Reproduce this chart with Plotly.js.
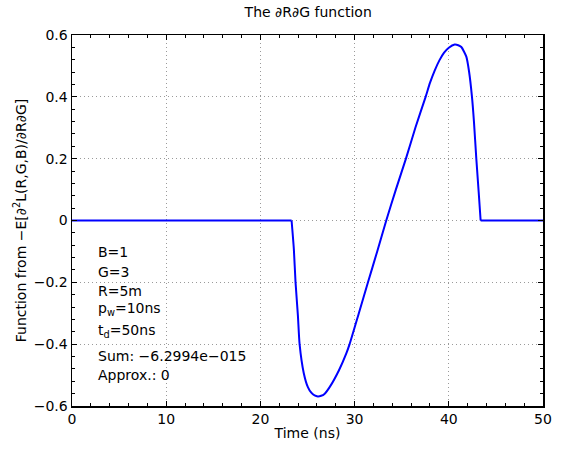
<!DOCTYPE html>
<html>
<head>
<meta charset="utf-8">
<script src="https://cdn.plot.ly/plotly-3.0.1.min.js"></script>
<style>html,body{margin:0;padding:0;background:#fff;}</style>
</head>
<body>
<div id="chart" style="width:563px;height:450px;"></div>
<script>
// Time (ns)
const timeNs = [0, 23.31, 23.55, 23.73, 23.98, 24.16, 24.6, 25.04, 25.4, 25.75, 26.1, 26.45, 26.8, 27.35, 28.33, 29.12, 29.47, 30.45, 31.42, 32.4, 33.36, 34.38, 35.45, 36.45, 37.54, 38.0, 38.5, 39.0, 39.5, 40.0, 40.62, 41.0, 41.33, 41.86, 42.15, 42.46, 42.67, 42.92, 43.17, 43.38, 50];
// Function value
const funcVals = [0, 0, -0.092, -0.2, -0.307, -0.4, -0.493, -0.539, -0.557, -0.566, -0.569, -0.567, -0.561, -0.539, -0.485, -0.43, -0.4, -0.3, -0.2, -0.1, 0, 0.1, 0.2, 0.3, 0.4, 0.445, 0.485, 0.518, 0.543, 0.559, 0.569, 0.567, 0.561, 0.53, 0.482, 0.4, 0.32, 0.2, 0.093, 0, 0];

const xTicks = [0, 10, 20, 30, 40, 50];
const yTicks = [-0.6, -0.4, -0.2, 0, 0.2, 0.4, 0.6];
const yTickText = ['\u22120.6', '\u22120.4', '\u22120.2', '0', '0.2', '0.4', '0.6'];

const infoLines = ['B=1', 'G=3', 'R=5m', 'p<sub>w</sub>=10ns', 't<sub>d</sub>=50ns', 'Sum: \u22126.2994e\u2212015', 'Approx.: 0'];
const infoY = [0.414, 0.361, 0.309, 0.262, 0.203, 0.135, 0.083];

const FONT = 'DejaVu Sans, Liberation Sans, Arial, sans-serif';

// split: flat start, pulse (smooth), flat end
const iStart = 1, iEnd = timeNs.length - 2;
const line = {color: '#0000ff', width: 2};
const traces = [
  {x: timeNs.slice(0, iStart + 1), y: funcVals.slice(0, iStart + 1), type: 'scatter', mode: 'lines', line: line},
  {x: timeNs.slice(iStart, iEnd + 1), y: funcVals.slice(iStart, iEnd + 1), type: 'scatter', mode: 'lines', line: Object.assign({shape: 'spline', smoothing: 0.6}, line)},
  {x: timeNs.slice(iEnd), y: funcVals.slice(iEnd), type: 'scatter', mode: 'lines', line: line}
];

const axisCommon = {
  showline: true, linecolor: '#000', linewidth: 1.5, mirror: 'allticks',
  ticks: 'inside', ticklen: 5, tickwidth: 1, tickcolor: '#000',
  showgrid: true, gridcolor: '#9a9a9a', gridwidth: 1, griddash: '1px,3px',
  zeroline: false, tickfont: {family: FONT, size: 14, color: '#000'}
};

const layout = {
  width: 563, height: 450,
  margin: {l: 72, r: 20, t: 35, b: 44},
  paper_bgcolor: '#fff', plot_bgcolor: '#fff',
  showlegend: false,
  font: {family: FONT, size: 14, color: '#000'},
  title: {text: 'The \u2202R\u2202G function', font: {family: FONT, size: 14, color: '#000'},
          x: 0.5474, xanchor: 'center', y: 1 - 12/450, yanchor: 'middle', yref: 'container'},
  xaxis: Object.assign({}, axisCommon, {
    range: [0, 50], tickvals: xTicks, ticktext: xTicks.map(String),
    minor: {dtick: 2, tick0: 0, ticks: 'inside', ticklen: 3, tickcolor: '#000', showgrid: false},
    title: {text: 'Time (ns)', font: {family: FONT, size: 14, color: '#000'}, standoff: 2},
    automargin: false
  }),
  yaxis: Object.assign({}, axisCommon, {
    range: [-0.6, 0.6], tickvals: yTicks, ticktext: yTickText,
    minor: {dtick: 0.04, tick0: 0, ticks: 'inside', ticklen: 3, tickcolor: '#000', showgrid: false},
    title: {text: 'Function from \u2212E[\u2202<sup>2</sup>L(R,G,B)/\u2202R\u2202G]', font: {family: FONT, size: 14, color: '#000'}, standoff: 4},
    automargin: false
  }),
  annotations: infoLines.map((t, i) => ({
    text: t, xref: 'paper', yref: 'paper', x: 0.05, y: infoY[i],
    xanchor: 'left', yanchor: 'middle', showarrow: false,
    font: {family: FONT, size: 14, color: '#000'}
  }))
};

Plotly.newPlot('chart', traces, layout, {staticPlot: true, displayModeBar: false});
</script>
</body>
</html>
